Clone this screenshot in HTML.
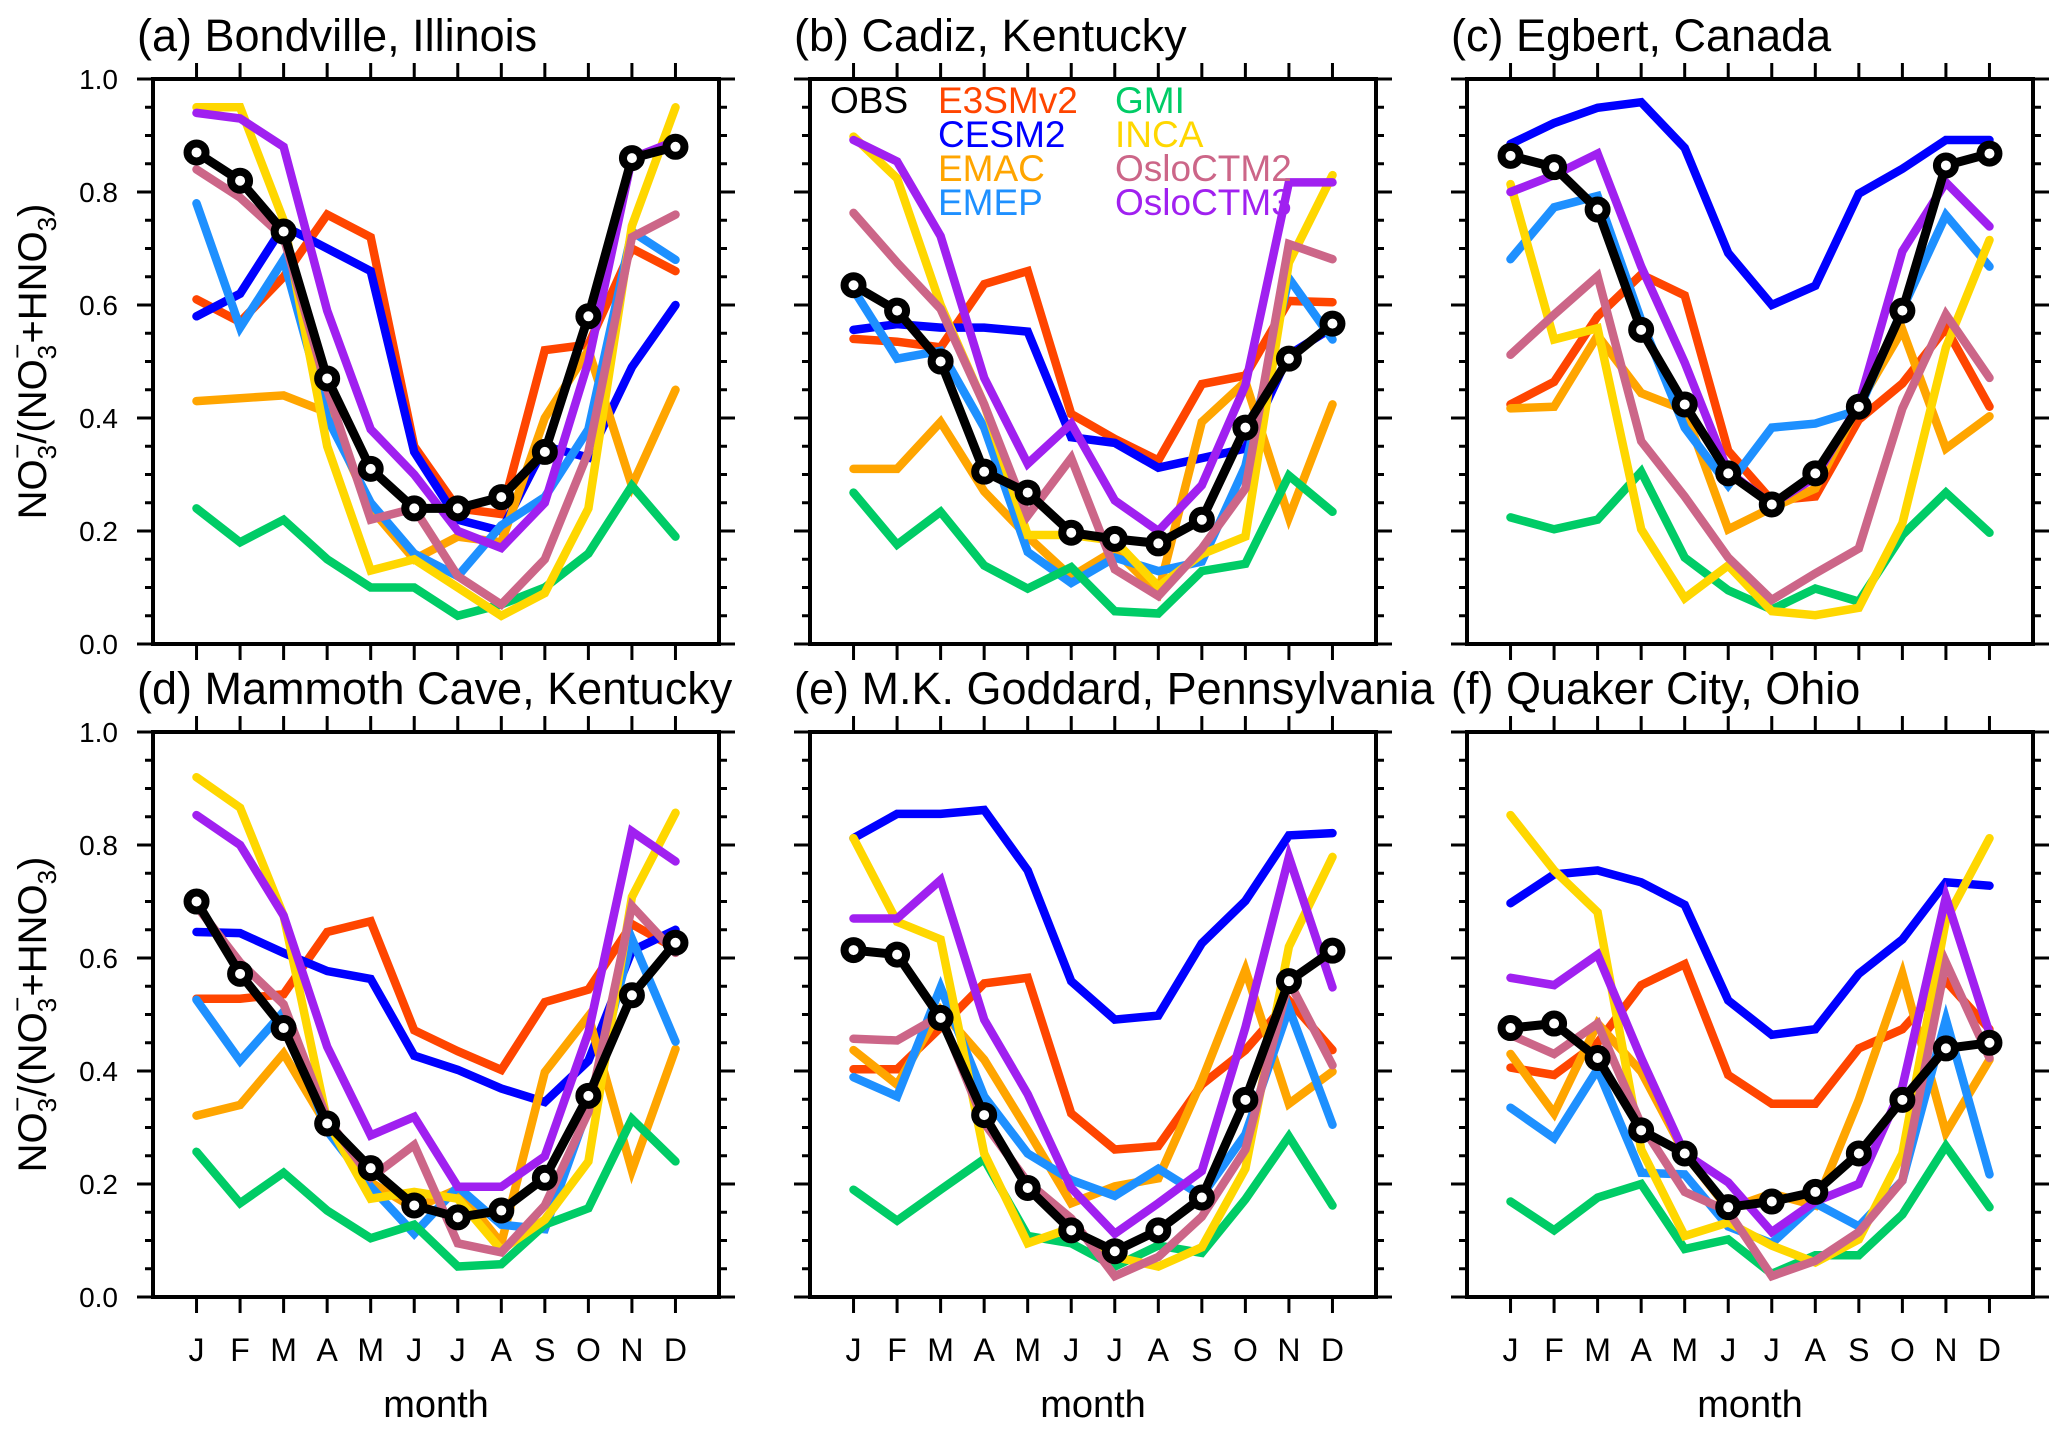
<!DOCTYPE html>
<html><head><meta charset="utf-8"><style>
html,body{margin:0;padding:0;background:#fff;}
svg{display:block;font-family:"Liberation Sans",Arial,sans-serif;}
</style></head><body>
<svg id="fig" width="2067" height="1437" viewBox="0 0 2067 1437" xmlns="http://www.w3.org/2000/svg"></svg>
<script>
const months = ["J","F","M","A","M","J","J","A","S","O","N","D"];
const yTicks = [0,0.2,0.4,0.6,0.8,1.0];
const yTickLabels = ["0.0","0.2","0.4","0.6","0.8","1.0"];
const seriesNames = ["E3SMv2","CESM2","EMAC","EMEP","GMI","INCA","OsloCTM2","OsloCTM3","OBS"];
const seriesColors = ["#ff4500","#0000ff","#ffa500","#1e90ff","#00cc66","#ffd700","#cc6688","#a020f0","#000000"];
const panelTitles = ["(a) Bondville, Illinois","(b) Cadiz, Kentucky","(c) Egbert, Canada","(d) Mammoth Cave, Kentucky","(e) M.K. Goddard, Pennsylvania","(f) Quaker City, Ohio"];

const dataA_E3SMv2 = [.61,.57,.65,.76,.72,.35,.24,.23,.52,.53,.70,.66];
const dataA_CESM2 = [.58,.62,.74,.70,.66,.34,.22,.20,.35,.33,.49,.60];
const dataA_EMAC = [.43,.435,.44,.41,.24,.15,.19,.18,.40,.52,.28,.45];
const dataA_EMEP = [.78,.56,.68,.40,.25,.16,.12,.21,.26,.38,.73,.68];
const dataA_GMI = [.24,.18,.22,.15,.10,.10,.05,.07,.10,.16,.28,.19];
const dataA_INCA = [.95,.95,.75,.35,.13,.15,.10,.05,.09,.24,.74,.95];
const dataA_Oslo2 = [.84,.79,.72,.45,.22,.24,.12,.07,.15,.34,.72,.76];
const dataA_Oslo3 = [.94,.93,.88,.59,.38,.30,.20,.17,.25,.50,.86,.89];
const dataA_OBS = [.87,.82,.73,.47,.31,.24,.24,.26,.34,.58,.86,.88];

const dataB_E3SMv2 = [.54,.535,.525,.637,.66,.407,.363,.325,.46,.475,.607,.605];
const dataB_CESM2 = [.556,.566,.56,.56,.553,.366,.356,.312,.329,.346,.512,.56];
const dataB_EMAC = [.31,.31,.393,.27,.19,.119,.166,.09,.393,.464,.224,.424];
const dataB_EMEP = [.627,.505,.519,.383,.163,.108,.153,.129,.146,.315,.647,.539];
const dataB_GMI = [.268,.176,.234,.139,.098,.136,.058,.054,.129,.142,.298,.234];
const dataB_INCA = [.898,.824,.6,.424,.193,.193,.183,.102,.159,.19,.675,.83];
const dataB_Oslo2 = [.763,.675,.593,.424,.227,.329,.132,.085,.169,.275,.708,.681];
const dataB_Oslo3 = [.892,.854,.722,.471,.319,.39,.254,.2,.281,.458,.817,.817];
const dataB_OBS = [.635,.59,.50,.305,.268,.197,.186,.178,.22,.383,.505,.567];

const dataC_E3SMv2 = [.424,.464,.58,.654,.617,.342,.254,.261,.397,.461,.559,.42];
const dataC_CESM2 = [.885,.922,.949,.959,.878,.692,.6,.634,.797,.841,.892,.892];
const dataC_EMAC = [.417,.42,.546,.444,.414,.203,.241,.275,.424,.556,.346,.403];
const dataC_EMEP = [.681,.773,.793,.573,.383,.281,.383,.39,.414,.593,.759,.668];
const dataC_GMI = [.224,.203,.22,.305,.153,.095,.061,.098,.075,.193,.268,.197];
const dataC_INCA = [.814,.539,.559,.203,.081,.139,.058,.051,.064,.214,.525,.715];
const dataC_Oslo2 = [.512,.583,.651,.359,.261,.153,.078,.125,.169,.417,.583,.471];
const dataC_Oslo3 = [.8,.83,.868,.668,.498,.305,.247,.295,.424,.695,.817,.739];
const dataC_OBS = [.864,.844,.769,.556,.424,.302,.247,.302,.42,.59,.847,.868];

const dataD_E3SMv2 = [.528,.528,.536,.646,.665,.472,.435,.402,.522,.544,.66,.617];
const dataD_CESM2 = [.646,.644,.609,.577,.563,.427,.402,.369,.345,.418,.613,.65];
const dataD_EMAC = [.321,.34,.431,.302,.203,.157,.191,.095,.398,.497,.224,.439];
const dataD_EMEP = [.526,.418,.505,.294,.195,.112,.195,.128,.12,.336,.634,.452];
const dataD_GMI = [.257,.166,.22,.153,.104,.128,.054,.058,.128,.157,.315,.24];
const dataD_INCA = [.92,.866,.675,.311,.174,.186,.174,.083,.137,.24,.708,.857];
const dataD_Oslo2 = [.692,.592,.518,.315,.211,.269,.095,.079,.162,.327,.692,.609];
const dataD_Oslo3 = [.853,.80,.675,.443,.286,.319,.195,.195,.249,.468,.824,.771];
const dataD_OBS = [.70,.572,.476,.307,.228,.162,.141,.153,.211,.356,.534,.627];

const dataE_E3SMv2 = [.403,.403,.477,.555,.565,.325,.261,.267,.376,.437,.525,.437];
const dataE_CESM2 = [.812,.855,.855,.862,.755,.559,.491,.498,.626,.701,.817,.821];
const dataE_EMAC = [.437,.376,.508,.42,.295,.166,.196,.21,.383,.579,.342,.399];
const dataE_EMEP = [.389,.355,.548,.355,.254,.207,.179,.227,.179,.288,.511,.305];
const dataE_GMI = [.19,.135,.19,.244,.108,.095,.054,.091,.078,.173,.284,.162];
const dataE_INCA = [.812,.664,.633,.254,.095,.122,.071,.054,.088,.227,.62,.779];
const dataE_Oslo2 = [.457,.454,.498,.308,.203,.139,.037,.071,.142,.261,.559,.41];
const dataE_Oslo3 = [.67,.67,.738,.491,.359,.193,.112,.166,.223,.477,.779,.548];
const dataE_OBS = [.614,.606,.494,.322,.193,.118,.081,.118,.176,.349,.559,.613];

const dataF_E3SMv2 = [.406,.393,.45,.552,.589,.393,.342,.342,.44,.474,.559,.474];
const dataF_CESM2 = [.697,.748,.755,.734,.694,.525,.464,.474,.572,.633,.734,.728];
const dataF_EMAC = [.43,.325,.484,.399,.254,.156,.183,.162,.349,.572,.291,.42];
const dataF_EMEP = [.335,.281,.403,.22,.217,.125,.095,.166,.125,.206,.491,.217];
const dataF_GMI = [.169,.118,.176,.2,.085,.102,.041,.074,.074,.146,.267,.159];
const dataF_INCA = [.853,.755,.681,.261,.108,.132,.091,.061,.102,.254,.667,.812];
const dataF_Oslo2 = [.464,.43,.484,.305,.186,.152,.037,.064,.115,.206,.592,.423];
const dataF_Oslo3 = [.565,.552,.606,.423,.254,.203,.115,.169,.2,.372,.708,.467];
const dataF_OBS = [.476,.484,.423,.295,.254,.159,.169,.186,.254,.349,.44,.45];

const panelData = [
 [dataA_E3SMv2,dataA_CESM2,dataA_EMAC,dataA_EMEP,dataA_GMI,dataA_INCA,dataA_Oslo2,dataA_Oslo3,dataA_OBS],
 [dataB_E3SMv2,dataB_CESM2,dataB_EMAC,dataB_EMEP,dataB_GMI,dataB_INCA,dataB_Oslo2,dataB_Oslo3,dataB_OBS],
 [dataC_E3SMv2,dataC_CESM2,dataC_EMAC,dataC_EMEP,dataC_GMI,dataC_INCA,dataC_Oslo2,dataC_Oslo3,dataC_OBS],
 [dataD_E3SMv2,dataD_CESM2,dataD_EMAC,dataD_EMEP,dataD_GMI,dataD_INCA,dataD_Oslo2,dataD_Oslo3,dataD_OBS],
 [dataE_E3SMv2,dataE_CESM2,dataE_EMAC,dataE_EMEP,dataE_GMI,dataE_INCA,dataE_Oslo2,dataE_Oslo3,dataE_OBS],
 [dataF_E3SMv2,dataF_CESM2,dataF_EMAC,dataF_EMEP,dataF_GMI,dataF_INCA,dataF_Oslo2,dataF_Oslo3,dataF_OBS]
];

const NS="http://www.w3.org/2000/svg";
const svg=document.getElementById('fig');
function mk(tag,attrs,parent){const e=document.createElementNS(NS,tag);for(const k in attrs)e.setAttribute(k,attrs[k]);(parent||svg).appendChild(e);return e;}

const PX=[153,810,1467], PY=[79,732], PW=566, PH=565;

function drawYTitle(g,cx,cy){
  const t=mk('text',{transform:`translate(${cx},${cy}) rotate(-90)`,'text-anchor':'middle','font-size':40,fill:'#000'},g);
  
  
  t.innerHTML='NO<tspan font-size="26" dy="10">3</tspan><tspan font-size="26" dy="-30" dx="-14">−</tspan><tspan dy="20">/(NO</tspan><tspan font-size="26" dy="10">3</tspan><tspan font-size="26" dy="-30" dx="-14">−</tspan><tspan dy="20">+HNO</tspan><tspan font-size="26" dy="10">3</tspan><tspan dy="-10">)</tspan>';
}

for(let p=0;p<6;p++){
  const col=p%3,row=Math.floor(p/3);
  const x0=PX[col],y0=PY[row];
  const xs=i=>x0+(i+1)*PW/13;
  const ys=v=>y0+PH-v*PH;
  const g=mk('g',{});
  
  
  const title=mk('text',{x:x0-16,y:y0-28,'font-size':45,fill:'#000'},g);
  
  
  title.textContent=panelTitles[p];
  for(let s=0;s<seriesNames.length;s++){
    const d=panelData[p][s];
    const pts=d.map((v,i)=>xs(i).toFixed(1)+','+ys(v).toFixed(1)).join(' ');
    const pl=mk('polyline',{points:pts,fill:'none',stroke:seriesColors[s],'stroke-width':seriesNames[s]==='OBS'?9:8.5,'stroke-linejoin':'miter','stroke-linecap':'round'},g);
    
    
    if(seriesNames[s]==='OBS'){
      d.forEach((v,i)=>{
        const c=mk('circle',{cx:xs(i),cy:ys(v),r:9,fill:'#fff',stroke:'#000','stroke-width':8},g);
        
        
      });
    }
  }
  const fr=mk('rect',{x:x0,y:y0,width:PW,height:PH,fill:'none',stroke:'#000','stroke-width':4},g);
  
  
  for(let k=0;k<=20;k++){
    const v=k*0.05,y=ys(v),len=(k%4===0)?16:8;
    mk('line',{x1:x0-len,y1:y,x2:x0,y2:y,stroke:'#000','stroke-width':3},g);
    mk('line',{x1:x0+PW,y1:y,x2:x0+PW+len,y2:y,stroke:'#000','stroke-width':3},g);
  }
  if(col===0){
    yTicks.forEach((v,i)=>{
      const t=mk('text',{x:x0-35,y:ys(v)+10,'text-anchor':'end','font-size':28,fill:'#000'},g);
      
      
      t.textContent=yTickLabels[i];
    });
  }
  months.forEach((m,i)=>{
    mk('line',{x1:xs(i),y1:y0-16,x2:xs(i),y2:y0,stroke:'#000','stroke-width':3},g);
    mk('line',{x1:xs(i),y1:y0+PH,x2:xs(i),y2:y0+PH+16,stroke:'#000','stroke-width':3},g);
    if(row===1){
      const t=mk('text',{x:xs(i),y:y0+PH+64,'text-anchor':'middle','font-size':32,fill:'#000'},g);
      
      
      t.textContent=m;
    }
  });
  if(row===1){
    const t=mk('text',{x:x0+PW/2,y:y0+PH+120,'text-anchor':'middle','font-size':38,fill:'#000'},g);
    
    
    t.textContent='month';
  }
  if(col===0) drawYTitle(g,46,y0+PH/2);
}

const legendNames=["OBS","E3SMv2","CESM2","EMAC","EMEP","GMI","INCA","OsloCTM2","OsloCTM3"];
const legendColors=["#000000","#ff4500","#0000ff","#ffa500","#1e90ff","#00cc66","#ffd700","#cc6688","#a020f0"];
const legendCol=[0,1,1,1,1,2,2,2,2];
const legendRow=[0,0,1,2,3,0,1,2,3];
const lcx=[830,938,1115];
const lg=mk('g',{});


legendNames.forEach((n,i)=>{
  const t=mk('text',{x:lcx[legendCol[i]],y:113+legendRow[i]*34,'font-size':37,fill:legendColors[i]},lg);
  
  
  t.textContent=n;
});
</script>
</body></html>
